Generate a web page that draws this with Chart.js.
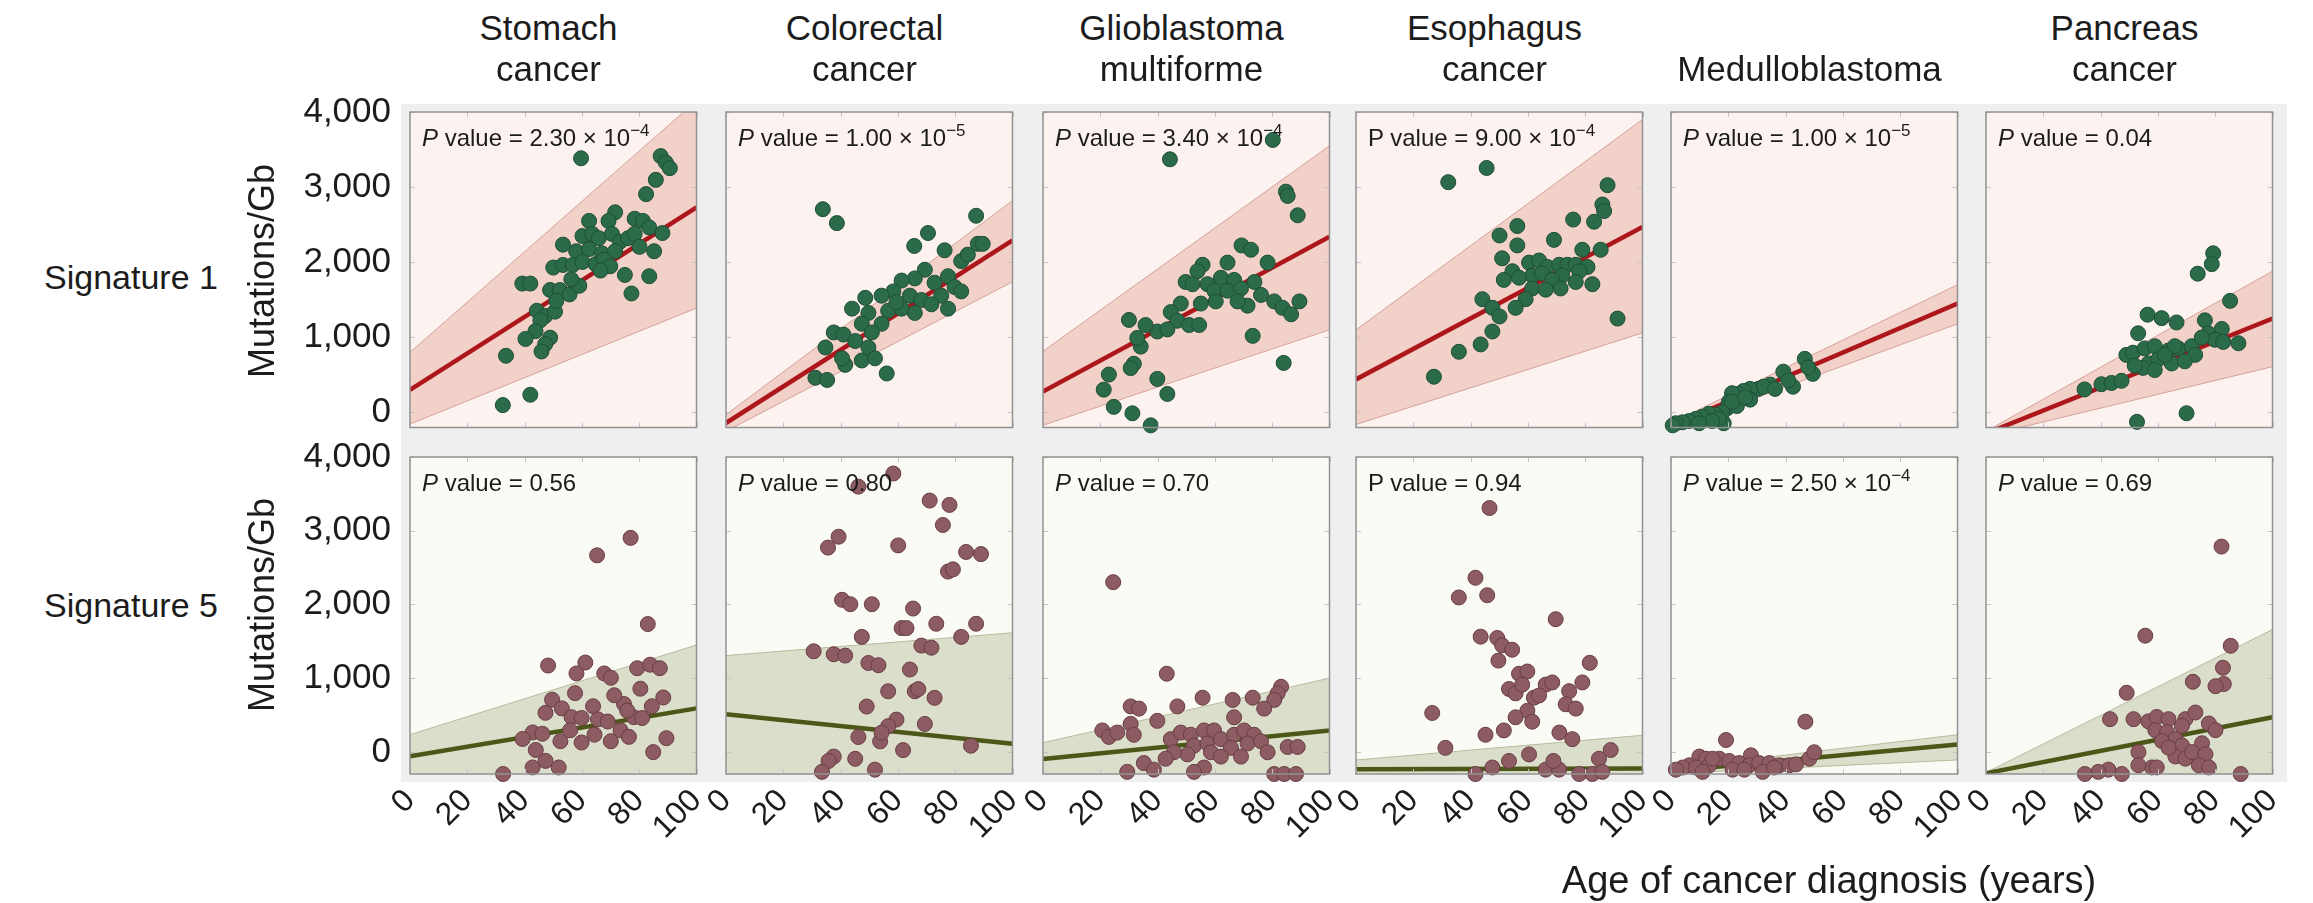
<!DOCTYPE html>
<html>
<head>
<meta charset="utf-8">
<script src="https://cdn.jsdelivr.net/npm/chart.js@4.4.0/dist/chart.umd.min.js"></script>
<style>
  html, body { margin: 0; padding: 0; background: #ffffff; }
  body { width: 2313px; height: 903px; position: relative; overflow: hidden;
         font-family: 'Liberation Sans', Arial, Helvetica, sans-serif; color: #1c1c1c; }
  .txt { position: absolute; white-space: nowrap; line-height: 1; }
  .ctr { transform: translate(-50%, -50%); text-align: center; }
  .pv { font-size: 24px; }
  .pv sup { font-size: 17px; vertical-align: 10px; line-height: 0; }
  canvas { position: absolute; }
  #frameBg { position: absolute; background: #efefef; }
</style>
</head>
<body>
<div id="frameBg"></div>
<script>
// ---- categories and tick labels ----
const cancers = ['Stomach\ncancer', 'Colorectal\ncancer', 'Glioblastoma\nmultiforme',
                 'Esophagus\ncancer', 'Medulloblastoma', 'Pancreas\ncancer'];
const signatures = ['Signature 1', 'Signature 5'];
const ageTicks = [0, 20, 40, 60, 80, 100];
const mutationTicks = [0, 1000, 2000, 3000, 4000];
const yAxisTitle = 'Mutations/Gb';
const xAxisTitle = 'Age of cancer diagnosis (years)';

// ---- P values per panel (signature 1 row, signature 5 row) ----
const pSig1 = ['2.30e-4', '1.00e-5', '3.40e-4', '9.00e-4', '1.00e-5', '0.04'];
const pSig5 = ['0.56', '0.80', '0.70', '0.94', '2.50e-4', '0.69'];

// ---- samples: [age, mutations/Gb] ----
const stomachSig1 = [[59.7,3384],[87.5,3413],[89.3,3327],[90.7,3252],[85.8,3097],[82.4,2907],[71.6,2665],[62.5,2550],[69.3,2550],[78.4,2579],[81.3,2550],[83.5,2464],[88.1,2389],[53.4,2234],[60.2,2349],[63.6,2377],[65.9,2320],[70.5,2377],[73.3,2274],[76.1,2320],[78.4,2377],[80.1,2205],[85.2,2147],[58.0,2147],[62.5,2176],[67.0,2118],[71.6,2147],[50.0,1929],[53.4,1964],[56.8,1964],[60.2,2004],[64.8,1975],[67.6,2032],[69.9,1946],[66.5,1889],[75.0,1831],[83.5,1814],[77.3,1584],[39.2,1716],[42.0,1716],[48.9,1630],[52.3,1630],[55.7,1572],[59.1,1687],[44.3,1354],[47.2,1285],[50.6,1342],[45.5,1227],[43.8,1083],[48.9,996],[47.2,910],[40.3,979],[45.9,812],[33.5,755],[42.0,236],[32.4,98],[51.1,1486],[56.3,1773]];
const stomachSig5 = [[77.0,2903],[65.3,2666],[83.0,1734],[48.2,1171],[61.2,1212],[58.1,1064],[67.8,1064],[70.1,1005],[79.3,1135],[83.8,1183],[87.2,1135],[80.4,857],[57.6,797],[88.4,738],[49.6,708],[53.0,590],[63.9,619],[74.7,649],[84.4,619],[56.4,471],[59.9,459],[65.6,441],[69.0,412],[78.1,471],[81.0,459],[73.5,293],[70.1,145],[42.8,264],[39.3,175],[46.2,246],[52.5,145],[59.9,127],[89.5,186],[84.9,-3],[43.9,26],[47.3,-122],[42.8,-211],[51.9,-211],[32.5,-300],[47.3,530],[64.4,234],[76.4,204],[55.9,293],[71.3,768],[75.8,560]];
const colorectalSig1 = [[33.8,2706],[38.7,2521],[87.3,2619],[70.5,2389],[65.7,2217],[76.3,2159],[87.9,2245],[82.1,2015],[69.4,1900],[65.9,1785],[72.8,1728],[77.5,1814],[79.8,1670],[61.3,1756],[58.4,1612],[54.3,1555],[48.6,1526],[64.2,1555],[68.2,1497],[75.1,1555],[71.7,1440],[44.0,1382],[49.7,1325],[56.6,1354],[61.3,1382],[65.9,1325],[54.3,1181],[47.4,1181],[37.6,1066],[41.0,1037],[50.9,1066],[45.1,951],[34.7,865],[49.7,865],[41.6,634],[47.4,692],[40.5,721],[31.2,462],[35.3,433],[56.1,519],[52.0,721],[59.5,1469],[84.4,2101],[89.6,2245],[77.5,1382],[82.1,1612]];
const colorectalSig5 = [[58.4,3776],[46.2,3598],[71.1,3409],[78.0,3350],[75.7,3078],[39.3,2919],[35.6,2771],[60.1,2801],[83.8,2712],[89.0,2683],[77.5,2446],[79.2,2476],[40.5,2063],[43.4,2003],[50.9,2003],[65.3,1944],[61.3,1679],[63.0,1679],[73.4,1738],[87.3,1738],[82.1,1560],[47.4,1560],[30.6,1365],[37.6,1324],[41.6,1306],[68.2,1442],[71.7,1413],[49.7,1206],[53.2,1176],[64.2,1117],[56.6,822],[65.9,822],[67.1,852],[72.8,733],[49.1,615],[59.5,438],[56.6,349],[69.4,379],[46.2,202],[53.8,143],[61.8,24],[85.5,84],[37.6,-64],[35.8,-123],[45.1,-94],[52.0,-241],[33.5,-271],[54.3,261]];
const glioSig1 = [[44.3,3370],[80.2,3628],[84.8,2940],[85.4,2883],[88.9,2625],[69.3,2224],[72.6,2166],[78.4,1995],[55.7,1966],[53.9,1880],[64.4,1995],[49.8,1737],[52.2,1708],[57.4,1708],[62.1,1794],[66.7,1765],[59.8,1622],[64.4,1622],[69.1,1651],[73.8,1737],[76.1,1565],[80.7,1479],[83.6,1393],[86.6,1307],[89.5,1479],[60.3,1479],[55.1,1450],[48.1,1450],[44.6,1336],[46.9,1221],[51.0,1164],[54.5,1164],[39.9,1078],[35.8,1164],[43.4,1106],[30.0,1232],[71.4,1422],[73.2,1020],[84.0,660],[34.1,877],[31.7,648],[30.6,591],[23.0,505],[21.2,304],[39.9,447],[43.4,247],[24.7,75],[31.2,-11],[37.6,-171],[32.9,992],[67.9,1479]];
const glioSig5 = [[24.5,2302],[43.2,1060],[30.6,617],[33.5,587],[46.9,617],[55.7,735],[66.2,705],[73.2,735],[83.1,883],[81.9,794],[80.7,705],[77.2,587],[39.9,421],[20.7,291],[30.6,380],[23.0,203],[31.7,232],[44.6,173],[48.1,262],[51.6,232],[56.2,291],[59.7,291],[52.7,84],[57.4,114],[62.1,173],[66.7,232],[70.2,291],[73.7,232],[71.4,114],[76.1,143],[78.4,-5],[65.6,55],[58.6,-5],[50.4,-34],[45.7,-5],[35.2,-152],[38.7,-241],[29.4,-271],[56.2,-212],[52.7,-271],[85.4,67],[88.9,67],[80.7,-300],[84.2,-300],[88.3,-300],[42.8,-93],[62.1,-64],[69.1,-64],[25.9,262],[66.7,469]];
const esoSig1 = [[32.2,3066],[45.6,3255],[87.8,3026],[86.0,2768],[86.6,2682],[83.1,2539],[75.8,2568],[56.3,2482],[50.1,2356],[69.1,2298],[56.3,2224],[79.0,2166],[85.4,2166],[51.0,2052],[60.4,1995],[63.9,2023],[66.8,1937],[70.9,1966],[73.8,1966],[76.7,1966],[80.8,1937],[54.6,1880],[61.5,1823],[65.0,1851],[72.0,1823],[77.9,1880],[51.6,1765],[56.9,1794],[68.5,1765],[76.7,1737],[82.5,1708],[61.5,1651],[66.2,1634],[59.2,1508],[44.1,1508],[47.6,1393],[50.1,1278],[91.3,1250],[47.6,1078],[43.5,906],[35.9,808],[27.2,476],[55.7,1393],[71.4,1651]];
const esoSig5 = [[46.6,3308],[41.7,2362],[35.9,2095],[45.8,2125],[69.7,1800],[43.5,1563],[49.3,1545],[51.0,1445],[54.5,1386],[49.7,1238],[56.9,1060],[59.8,1090],[53.4,853],[55.7,794],[58.0,912],[66.2,912],[68.5,942],[62.1,735],[63.9,765],[59.8,558],[61.5,410],[74.4,824],[73.2,646],[76.7,587],[79.0,942],[81.6,1208],[55.7,469],[51.6,291],[45.2,232],[26.6,528],[31.2,55],[71.0,262],[75.5,173],[88.9,25],[84.8,-93],[60.4,-34],[47.6,-212],[53.4,-123],[41.7,-300],[66.2,-241],[70.9,-241],[77.9,-300],[82.5,-300],[86.0,-271],[68.9,-123]];
const medulloSig1 = [[46.7,714],[49.5,514],[47.9,600],[42.6,343],[39.2,543],[34.6,371],[30.5,314],[32.3,343],[27.6,314],[25.3,286],[23.6,246],[21.3,257],[20.2,143],[19.6,57],[23.0,86],[17.9,0],[15.6,-29],[13.2,-17],[10.9,-57],[8.6,-86],[6.3,-114],[4.0,-131],[1.7,-143],[18.4,-143],[16.7,-86],[27.6,171],[36.3,314],[40.9,429],[0.6,-171],[14.4,-114],[9.8,-143],[21.3,143],[25.9,200]];
const medulloSig5 = [[46.9,410],[19.2,161],[9.9,-64],[12.2,-93],[27.9,-46],[16.9,-93],[20.3,-123],[23.8,-152],[27.3,-182],[30.8,-152],[34.3,-152],[37.8,-182],[41.3,-182],[43.6,-170],[48.3,-93],[50.0,-5],[6.4,-182],[4.1,-212],[1.7,-241],[8.7,-212],[13.4,-182],[21.5,-241],[25.6,-241],[32.0,-271],[14.5,-93],[11.0,-271],[36.0,-212]];
const pancSig1 = [[79.3,2119],[78.8,1975],[73.9,1848],[85.2,1486],[56.4,1302],[61.3,1256],[66.5,1198],[76.4,1227],[53.1,1054],[82.3,1112],[49.0,767],[51.3,796],[55.4,853],[58.9,882],[63.6,824],[67.1,853],[71.8,882],[73.0,767],[77.6,1054],[79.9,968],[82.8,939],[88.1,922],[56.7,652],[60.1,709],[64.8,652],[69.4,681],[54.8,594],[58.9,565],[34.4,307],[40.3,376],[43.8,393],[47.3,422],[70.0,-10],[52.7,-125],[65.9,882],[62.4,767],[51.9,623],[75.3,997]];
const pancSig5 = [[82.2,2785],[55.6,1576],[85.4,1439],[82.7,1141],[83.0,921],[72.2,951],[49.1,802],[80.1,891],[43.3,444],[51.5,444],[56.7,414],[59.6,474],[63.7,444],[69.6,444],[73.1,534],[59.1,295],[63.2,266],[66.1,176],[68.4,87],[61.4,147],[77.8,385],[80.1,295],[75.4,117],[66.1,-62],[69.6,-92],[71.9,-3],[76.6,-32],[74.3,-181],[77.8,-211],[53.2,-3],[57.9,-211],[59.6,-211],[47.4,-300],[42.7,-241],[39.2,-271],[34.5,-300],[53.2,-181],[88.9,-300],[68.4,355],[63.7,57]];

// ---- fitted trend and its band: value at age 0 and at age 100 ----
const fitSig1   = [[300,2730], [-140,2290], [280,2340], [440,2470], [-180,1450], [-280,1250]];
const upperSig1 = [[800,4150], [-30,2820],  [815,3550], [1100,3900], [-140,1700], [-250,1880]];
const lowerSig1 = [[-155,1390],[-250,1740], [-170,1100],[-160,1060], [-220,1180], [-310,610]];
const fitSig5   = [[-60,590],  [510,110],   [-95,290],  [-235,-225], [-260,100],  [-290,470]];
const upperSig5 = [[234,1450], [1306,1615], [125,1000], [-110,225],  [-225,232],  [-280,1660]];
const lowerSig5 = [[-380,-340],[-320,-1400],[-320,-420],[-360,-680], [-295,-110], [-300,-720]];

// ---- layout ----
const colLeft = [410, 726, 1043, 1356, 1671, 1986];
const plotW = 289;
const rowTop = [112, 457];
const rowH = [320, 317];
const rowMin = [-200, -300];
const FONT = "'Liberation Sans', Arial, Helvetica, sans-serif";

const rowStyle = [
  { bg: '#fcf3f0', band: '#f2d1c9', bandEdge: '#d5a199', fit: '#ad171c',
    pt: '#2c6b49', ptEdge: '#1e4f35' },
  { bg: '#fbfbf5', band: '#dbdecb', bandEdge: '#b7bb9e', fit: '#4a5716',
    pt: '#8d5b62', ptEdge: '#6a3e45' }
];

const panels = [
  [stomachSig1, colorectalSig1, glioSig1, esoSig1, medulloSig1, pancSig1],
  [stomachSig5, colorectalSig5, glioSig5, esoSig5, medulloSig5, pancSig5]
];
const fits = [fitSig1, fitSig5], uppers = [upperSig1, upperSig5], lowers = [lowerSig1, lowerSig5];
const pvals = [pSig1, pSig5];

// background behind the grid of panels
const fb = document.getElementById('frameBg');
Object.assign(fb.style, { left: '401px', top: '104px', width: '1886px', height: '678px' });

function addText(html, x, y, size, extra) {
  const d = document.createElement('div');
  d.className = 'txt' + (extra && extra.noCenter ? '' : ' ctr');
  d.innerHTML = html;
  d.style.left = x + 'px';
  d.style.top = y + 'px';
  d.style.fontSize = size + 'px';
  if (extra && extra.transform) d.style.transform = extra.transform;
  document.body.appendChild(d);
  return d;
}

// panel frame: plot background, inner tick marks, box outline
const panelFrame = {
  id: 'panelFrame',
  beforeDraw(chart, args, opts) {
    const { ctx, chartArea: a } = chart;
    ctx.save();
    ctx.fillStyle = opts.bg;
    ctx.fillRect(a.left, a.top, a.right - a.left, a.bottom - a.top);
    ctx.restore();
  },
  afterDraw(chart) {
    const { ctx, chartArea: a, scales } = chart;
    ctx.save();
    ctx.strokeStyle = '#c4c4c4';
    ctx.lineWidth = 1;
    ctx.beginPath();
    ageTicks.forEach(v => {
      const px = Math.round(scales.x.getPixelForValue(v)) + 0.5;
      ctx.moveTo(px, a.top); ctx.lineTo(px, a.top + 5);
      ctx.moveTo(px, a.bottom); ctx.lineTo(px, a.bottom - 5);
    });
    mutationTicks.forEach(v => {
      const py = Math.round(scales.y.getPixelForValue(v)) + 0.5;
      ctx.moveTo(a.left, py); ctx.lineTo(a.left + 5, py);
      ctx.moveTo(a.right, py); ctx.lineTo(a.right - 5, py);
    });
    ctx.stroke();
    ctx.strokeStyle = '#929292';
    ctx.lineWidth = 1.5;
    ctx.strokeRect(a.left, a.top, a.right - a.left, a.bottom - a.top);
    ctx.restore();
  }
};

const toXY = arr => arr.map(p => ({ x: p[0], y: p[1] }));
const ends = pair => [{ x: 0, y: pair[0] }, { x: 100, y: pair[1] }];

panels.forEach((row, r) => row.forEach((pts, c) => {
  const st = rowStyle[r];
  const padL = c === 0 ? 150 : 46, padR = 6, padT = 26, padB = r === 1 ? 92 : 4;
  const w = plotW + padL + padR, h = rowH[r] + padT + padB;
  const cv = document.createElement('canvas');
  cv.width = w; cv.height = h;
  Object.assign(cv.style, { left: (colLeft[c] - padL) + 'px', top: (rowTop[r] - padT) + 'px',
                            width: w + 'px', height: h + 'px' });
  document.body.appendChild(cv);

  new Chart(cv, {
    type: 'line',
    data: {
      datasets: [
        { data: toXY(pts), showLine: false, pointRadius: 7.5, pointBorderWidth: 1,
          pointBackgroundColor: st.pt, pointBorderColor: st.ptEdge, clip: 8 },
        { data: ends(fits[r][c]), borderColor: st.fit, borderWidth: 4.5, pointRadius: 0, fill: false },
        { data: ends(uppers[r][c]), borderColor: st.bandEdge, borderWidth: 1, pointRadius: 0,
          backgroundColor: st.band, fill: '+1' },
        { data: ends(lowers[r][c]), borderColor: st.bandEdge, borderWidth: 1, pointRadius: 0, fill: false }
      ]
    },
    options: {
      responsive: false, animation: false, devicePixelRatio: 1,
      events: [],
      layout: { padding: { top: padT, right: padR, left: 0, bottom: 0 } },
      elements: { line: { tension: 0 } },
      plugins: {
        legend: { display: false }, tooltip: { enabled: false },
        filler: { drawTime: 'beforeDatasetsDraw' },
        panelFrame: { bg: st.bg }
      },
      scales: {
        x: {
          type: 'linear', position: 'bottom', min: 0, max: 100,
          grid: { display: false, drawTicks: false }, border: { display: false },
          afterBuildTicks: s => { s.ticks = ageTicks.map(v => ({ value: v })); },
          afterFit: s => { s.height = padB; s.paddingLeft = 0; s.paddingRight = 0; },
          ticks: { display: r === 1, autoSkip: false, minRotation: 45, maxRotation: 45,
                   padding: 8, color: '#1c1c1c', font: { family: FONT, size: 32 } }
        },
        y: {
          type: 'linear', position: 'left', min: rowMin[r], max: 4000,
          grid: { display: false, drawTicks: false }, border: { display: false },
          afterBuildTicks: s => { s.ticks = mutationTicks.map(v => ({ value: v })); },
          afterFit: s => { s.width = padL; s.paddingTop = 0; s.paddingBottom = 0; },
          ticks: { display: c === 0, padding: 19, color: '#1c1c1c',
                   font: { family: FONT, size: 35 },
                   callback: v => v.toLocaleString('en-US') }
        }
      }
    },
    plugins: [panelFrame]
  });

  // P value annotation
  const p = pvals[r][c];
  let html = '<span style="font-style:' + (c === 3 ? 'normal' : 'italic') + '">P</span> value = ';
  if (p.includes('e')) {
    const parts = p.split('e');
    html += parts[0] + ' \u00d7 10<sup>' + parts[1].replace('-', '\u2212') + '</sup>';
  } else {
    html += p;
  }
  const pv = addText(html, colLeft[c] + 12, rowTop[r] + 14, 24, { noCenter: true });
  pv.classList.add('pv');
}));

// column titles
cancers.forEach((name, c) => {
  const lines = name.split('\n');
  const cx = colLeft[c] + plotW / 2 - 6;
  if (lines.length === 2) {
    addText(lines[0], cx, 27, 35);
    addText(lines[1], cx, 68, 35);
  } else {
    addText(lines[0], cx, 68, 35);
  }
});

// row labels and y-axis titles
const rowLabelY = [277, 605];
const yTitleY = [271, 605];
signatures.forEach((s, r) => {
  addText(s, 44, rowLabelY[r], 34, { noCenter: true, transform: 'translateY(-50%)' });
  addText(yAxisTitle, 262, yTitleY[r], 36, { transform: 'translate(-50%, -50%) rotate(-90deg)' });
});

// x-axis title
addText(xAxisTitle, 1829, 880, 38);
</script>
</body>
</html>
